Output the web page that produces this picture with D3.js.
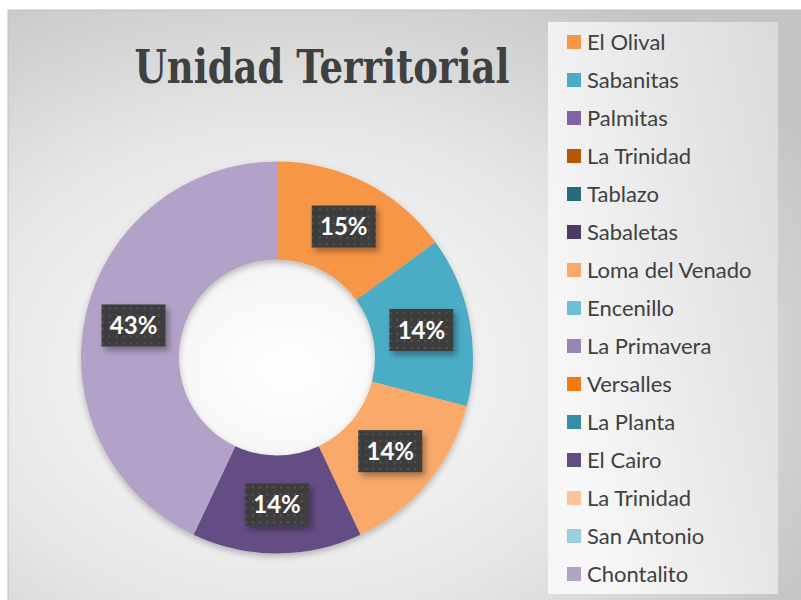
<!DOCTYPE html>
<html>
<head>
<meta charset="utf-8">
<script src="https://cdn.jsdelivr.net/npm/d3@7"></script>
<style>
  body { margin: 0; background: #fff; }
  svg { display: block; }
</style>
</head>
<body>
<script>
const categories = ["El Olival", "Sabanitas", "Palmitas", "La Trinidad", "Tablazo", "Sabaletas",
  "Loma del Venado", "Encenillo", "La Primavera", "Versalles", "La Planta", "El Cairo",
  "La Trinidad ", "San Antonio", "Chontalito"];
const values = [15, 14, 0, 0, 0, 0, 14, 0, 0, 0, 0, 14, 0, 0, 43];
const colors = ["#F79646", "#4BACC6", "#8064A2", "#B65708", "#276A7C", "#4D3B62",
  "#F9AA6B", "#6EBFD5", "#9A83B5", "#F57A10", "#348EA5", "#634E84",
  "#FBC39A", "#98CEDD", "#B3A2C7"];

const w = 801, h = 600;
const svg = d3.select("body").append("svg").attr("width", w).attr("height", h);
const defs = svg.append("defs");

// chart background gradient
const bg = defs.append("radialGradient").attr("id", "bg")
  .attr("cx", "0.35").attr("cy", "0.6").attr("r", "0.75");
bg.append("stop").attr("offset", "0").attr("stop-color", "#ffffff");
bg.append("stop").attr("offset", "0.55").attr("stop-color", "#e6e6e6");
bg.append("stop").attr("offset", "1").attr("stop-color", "#c4c4c4");

const lg = defs.append("linearGradient").attr("id", "lg")
  .attr("x1", "0").attr("y1", "0.5").attr("x2", "1").attr("y2", "0");
lg.append("stop").attr("offset", "0").attr("stop-color", "#f7f7f7");
lg.append("stop").attr("offset", "1").attr("stop-color", "#dadada");

// dotted fill for the labels
const pat = defs.append("pattern").attr("id", "dots")
  .attr("width", 7).attr("height", 7).attr("patternUnits", "userSpaceOnUse");
pat.append("rect").attr("width", 7).attr("height", 7).attr("fill", "#3c3c3c");
pat.append("rect").attr("x", 3).attr("y", 3).attr("width", 2).attr("height", 2).attr("fill", "#555");

const sh = defs.append("filter").attr("id", "shadow")
  .attr("x", "-30%").attr("y", "-30%").attr("width", "160%").attr("height", "160%");
sh.append("feDropShadow").attr("dx", 3).attr("dy", 4).attr("stdDeviation", 3)
  .attr("flood-color", "#000").attr("flood-opacity", 0.35);

const sh2 = defs.append("filter").attr("id", "dshadow")
  .attr("x", "-10%").attr("y", "-10%").attr("width", "120%").attr("height", "125%");
sh2.append("feDropShadow").attr("dx", 0).attr("dy", 3).attr("stdDeviation", 3)
  .attr("flood-color", "#000").attr("flood-opacity", 0.25);

svg.append("rect").attr("x", 8).attr("y", 10).attr("width", 800).attr("height", 600)
  .attr("fill", "url(#bg)").attr("stroke", "#c0c0c0");

// title
svg.append("text")
  .attr("x", 322).attr("y", 83)
  .attr("text-anchor", "middle")
  .attr("textLength", 375).attr("lengthAdjust", "spacingAndGlyphs")
  .style("font-family", "'DejaVu Serif', serif")
  .style("font-weight", "bold")
  .style("font-size", "46px")
  .style("fill", "#404040")
  .text("Unidad Territorial");

// donut
const cx = 277, cy = 357.5, outerR = 196, innerR = 98;
const pie = d3.pie().sort(null).value(d => d.v);
const arc = d3.arc().innerRadius(innerR).outerRadius(outerR);
const labelArc = d3.arc().innerRadius(147).outerRadius(147);
const data = categories.map((c, i) => ({ c, v: values[i], color: colors[i] }));
const arcs = pie(data);

const g = svg.append("g").attr("transform", `translate(${cx},${cy})`);
g.append("g").attr("filter", "url(#dshadow)")
  .selectAll("path")
  .data(arcs.filter(d => d.data.v > 0))
  .join("path")
  .attr("d", arc)
  .attr("fill", d => d.data.color);

const lab = g.selectAll("g.lab")
  .data(arcs.filter(d => d.data.v > 0))
  .join("g").attr("class", "lab")
  .attr("transform", d => `translate(${labelArc.centroid(d)})`);
lab.append("rect")
  .attr("x", -32).attr("y", -21).attr("width", 64).attr("height", 42)
  .attr("fill", "url(#dots)").attr("filter", "url(#shadow)");
lab.append("text")
  .attr("text-anchor", "middle").attr("dy", "0.36em")
  .style("font-family", "Lato, 'Open Sans', sans-serif")
  .style("font-weight", "bold").style("font-size", "24px")
  .style("fill", "#fff")
  .text(d => d.data.v + "%");

// legend
svg.append("rect").attr("x", 548).attr("y", 22).attr("width", 230).attr("height", 572)
  .attr("fill", "url(#lg)");
const y = d3.scalePoint().domain(d3.range(categories.length)).range([42, 574]);
const li = svg.selectAll("g.li").data(data).join("g").attr("class", "li")
  .attr("transform", (d, i) => `translate(567,${y(i)})`);
li.append("rect").attr("x", 0).attr("y", -7).attr("width", 14).attr("height", 14)
  .attr("fill", d => d.color);
li.append("text").attr("x", 20).attr("dy", "0.35em")
  .style("font-family", "Lato, 'Open Sans', sans-serif")
  .style("font-size", "22px").style("fill", "#404040")
  .text(d => d.c.trim());
</script>
</body>
</html>
